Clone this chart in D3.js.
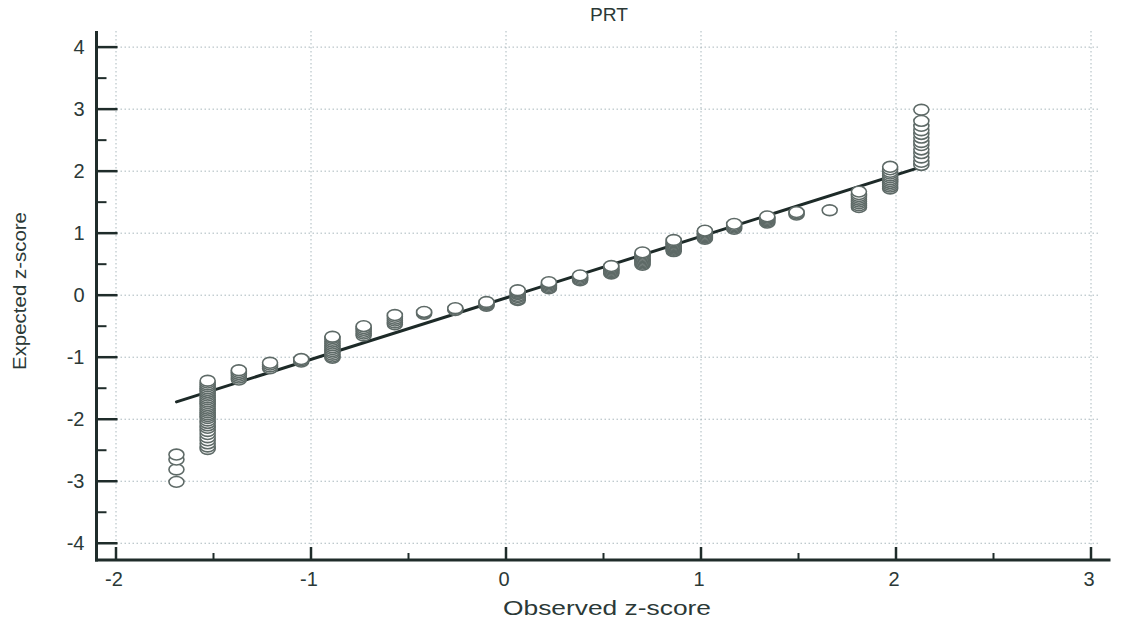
<!DOCTYPE html>
<html>
<head>
<meta charset="utf-8">
<script src="https://cdn.jsdelivr.net/npm/d3@7/dist/d3.min.js"></script>
<style>
  html, body { margin: 0; padding: 0; background: #ffffff; }
  svg { display: block; }
  text { font-family: "Liberation Sans", Arial, sans-serif; fill: #2b3937; }
</style>
</head>
<body>
<svg id="chart" width="1129" height="625"></svg>
<script>
// ---- data ----
const titleText = "PRT";
const xLabel = "Observed z-score";
const yLabel = "Expected z-score";

const xTicks = [-2, -1, 0, 1, 2, 3];
const yTicks = [-4, -3, -2, -1, 0, 1, 2, 3, 4];
const xMinorTicks = [-1.5, -0.5, 0.5, 1.5, 2.5];
const yMinorTicks = [-3.5, -2.5, -1.5, -0.5, 0.5, 1.5, 2.5, 3.5];

// observed z-score of each column of points
const observed = [-1.69, -1.53, -1.37, -1.21, -1.05, -0.89, -0.73, -0.57, -0.42, -0.26,
                  -0.10, 0.06, 0.22, 0.38, 0.54, 0.70, 0.86, 1.02, 1.17, 1.34,
                  1.49, 1.66, 1.81, 1.97, 2.13];

// expected z-scores of the points stacked in each column
const expected0  = [-3.01, -2.81, -2.65, -2.57];
const expected1  = [-2.48, -2.44, -2.39, -2.34, -2.29, -2.24, -2.19, -2.14, -2.10, -2.06,
                    -2.02, -1.98, -1.95, -1.92, -1.89, -1.86, -1.83, -1.80, -1.77, -1.74,
                    -1.71, -1.68, -1.65, -1.62, -1.59, -1.56, -1.53, -1.50, -1.47, -1.44,
                    -1.41, -1.38];
const expected2  = [-1.36, -1.33, -1.30, -1.27, -1.24, -1.21];
const expected3  = [-1.18, -1.15, -1.12, -1.09];
const expected4  = [-1.07, -1.05, -1.03];
const expected5  = [-1.01, -0.99, -0.96, -0.93, -0.90, -0.87, -0.84, -0.81, -0.78, -0.75,
                    -0.72, -0.69, -0.67];
const expected6  = [-0.65, -0.62, -0.59, -0.56, -0.53, -0.50];
const expected7  = [-0.47, -0.44, -0.41, -0.38, -0.35, -0.32];
const expected8  = [-0.30, -0.28, -0.27];
const expected9  = [-0.24, -0.22, -0.21];
const expected10 = [-0.17, -0.15, -0.13, -0.11];
const expected11 = [-0.08, -0.06, -0.03, -0.01, 0.02, 0.04, 0.06, 0.08];
const expected12 = [0.11, 0.13, 0.15, 0.17, 0.19, 0.21];
const expected13 = [0.24, 0.26, 0.28, 0.30, 0.32];
const expected14 = [0.35, 0.37, 0.39, 0.41, 0.43, 0.45, 0.47];
const expected15 = [0.49, 0.51, 0.53, 0.55, 0.57, 0.59, 0.61, 0.63, 0.65, 0.67, 0.69];
const expected16 = [0.71, 0.73, 0.75, 0.77, 0.79, 0.81, 0.83, 0.85, 0.87, 0.89];
const expected17 = [0.91, 0.93, 0.95, 0.97, 0.99, 1.01, 1.03, 1.04];
const expected18 = [1.07, 1.09, 1.11, 1.13, 1.15];
const expected19 = [1.17, 1.19, 1.21, 1.23, 1.25, 1.27];
const expected20 = [1.30, 1.32, 1.34];
const expected21 = [1.37];
const expected22 = [1.42, 1.45, 1.48, 1.51, 1.54, 1.57, 1.60, 1.63, 1.67];
const expected23 = [1.72, 1.75, 1.78, 1.81, 1.84, 1.87, 1.90, 1.93, 1.96, 1.99, 2.03, 2.07];
const expected24 = [2.10, 2.15, 2.22, 2.29, 2.35, 2.42, 2.47, 2.54, 2.60, 2.66, 2.73, 2.81, 2.99];

const expectedCols = [expected0, expected1, expected2, expected3, expected4, expected5,
  expected6, expected7, expected8, expected9, expected10, expected11, expected12,
  expected13, expected14, expected15, expected16, expected17, expected18, expected19,
  expected20, expected21, expected22, expected23, expected24];

// reference (fit) line end points, in data units
const lineX = [-1.69, 2.13];
const lineY = [-1.72, 2.07];

// ---- drawing ----
const svg = d3.select("#chart");
const x = d3.scaleLinear().domain([-2.1, 3.1]).range([96.5, 1110.5]);
const y = d3.scaleLinear().domain([-4.27, 4.26]).range([560, 31]);

const axisColor = "#1f2c2a";
const gridColor = "#a9b8bd";

// grid
const grid = svg.append("g");
grid.selectAll("line.gx").data(xTicks).join("line")
  .attr("x1", d => x(d)).attr("x2", d => x(d))
  .attr("y1", y.range()[1]).attr("y2", y.range()[0] - 12)
  .attr("stroke", gridColor).attr("stroke-width", 1)
  .attr("stroke-dasharray", "1.5,2.5");
grid.selectAll("line.gy").data(yTicks).join("line")
  .attr("x1", x.range()[0] + 20).attr("x2", 1100)
  .attr("y1", d => y(d)).attr("y2", d => y(d))
  .attr("stroke", gridColor).attr("stroke-width", 1)
  .attr("stroke-dasharray", "1.5,2.5");

// axes
const axisG = svg.append("g");
const x0 = x.range()[0], yB = y.range()[0];
axisG.append("line").attr("x1", x0).attr("x2", x0).attr("y1", y.range()[1]).attr("y2", yB + 1.5)
  .attr("stroke", axisColor).attr("stroke-width", 3);
axisG.append("line").attr("x1", x0 - 1.5).attr("x2", x.range()[1]).attr("y1", yB).attr("y2", yB)
  .attr("stroke", axisColor).attr("stroke-width", 3);

// y ticks (inside)
axisG.selectAll("line.yt").data(yTicks).join("line")
  .attr("x1", x0).attr("x2", x0 + 21).attr("y1", d => y(d)).attr("y2", d => y(d))
  .attr("stroke", axisColor).attr("stroke-width", 2.5);
axisG.selectAll("line.ytm").data(yMinorTicks).join("line")
  .attr("x1", x0).attr("x2", x0 + 10).attr("y1", d => y(d)).attr("y2", d => y(d))
  .attr("stroke", axisColor).attr("stroke-width", 2);
// x ticks (inside)
axisG.selectAll("line.xt").data(xTicks).join("line")
  .attr("x1", d => x(d)).attr("x2", d => x(d)).attr("y1", yB).attr("y2", yB - 13)
  .attr("stroke", axisColor).attr("stroke-width", 2.5);
axisG.selectAll("line.xtm").data(xMinorTicks).join("line")
  .attr("x1", d => x(d)).attr("x2", d => x(d)).attr("y1", yB).attr("y2", yB - 7)
  .attr("stroke", axisColor).attr("stroke-width", 2);

// tick labels
axisG.selectAll("text.yl").data(yTicks).join("text")
  .attr("x", x0 - 12).attr("y", d => y(d)).attr("dy", "0.36em")
  .attr("text-anchor", "end").attr("font-size", 20)
  .text(d => d);
axisG.selectAll("text.xl").data(xTicks).join("text")
  .attr("x", d => x(d) - 2).attr("y", yB + 26)
  .attr("text-anchor", "middle").attr("font-size", 20)
  .text(d => d);

// titles
svg.append("text").attr("x", 609).attr("y", 21).attr("text-anchor", "middle")
  .attr("font-size", 19).attr("textLength", 38).attr("lengthAdjust", "spacingAndGlyphs")
  .text(titleText);
svg.append("text").attr("x", 607).attr("y", 615).attr("text-anchor", "middle")
  .attr("font-size", 21).attr("textLength", 208).attr("lengthAdjust", "spacingAndGlyphs")
  .text(xLabel);
svg.append("text").attr("transform", "translate(26,291) rotate(-90)")
  .attr("text-anchor", "middle").attr("font-size", 19)
  .attr("textLength", 158).attr("lengthAdjust", "spacingAndGlyphs")
  .text(yLabel);

// fit line
svg.append("line")
  .attr("x1", x(lineX[0])).attr("y1", y(lineY[0]))
  .attr("x2", x(lineX[1])).attr("y2", y(lineY[1]))
  .attr("stroke", "#1d2a28").attr("stroke-width", 3).attr("stroke-linecap", "round");

// points: each column stacked bottom-first so the top ellipse stays white
const points = [];
observed.forEach((ox, i) => {
  expectedCols[i].slice().sort((a, b) => a - b).forEach(ev => points.push({ ox, ev }));
});
svg.append("g").selectAll("ellipse").data(points).join("ellipse")
  .attr("cx", d => x(d.ox)).attr("cy", d => y(d.ev))
  .attr("rx", 7.5).attr("ry", 5.4)
  .attr("fill", "#ffffff").attr("stroke", "#5e6a67").attr("stroke-width", 1.6);
</script>
</body>
</html>
